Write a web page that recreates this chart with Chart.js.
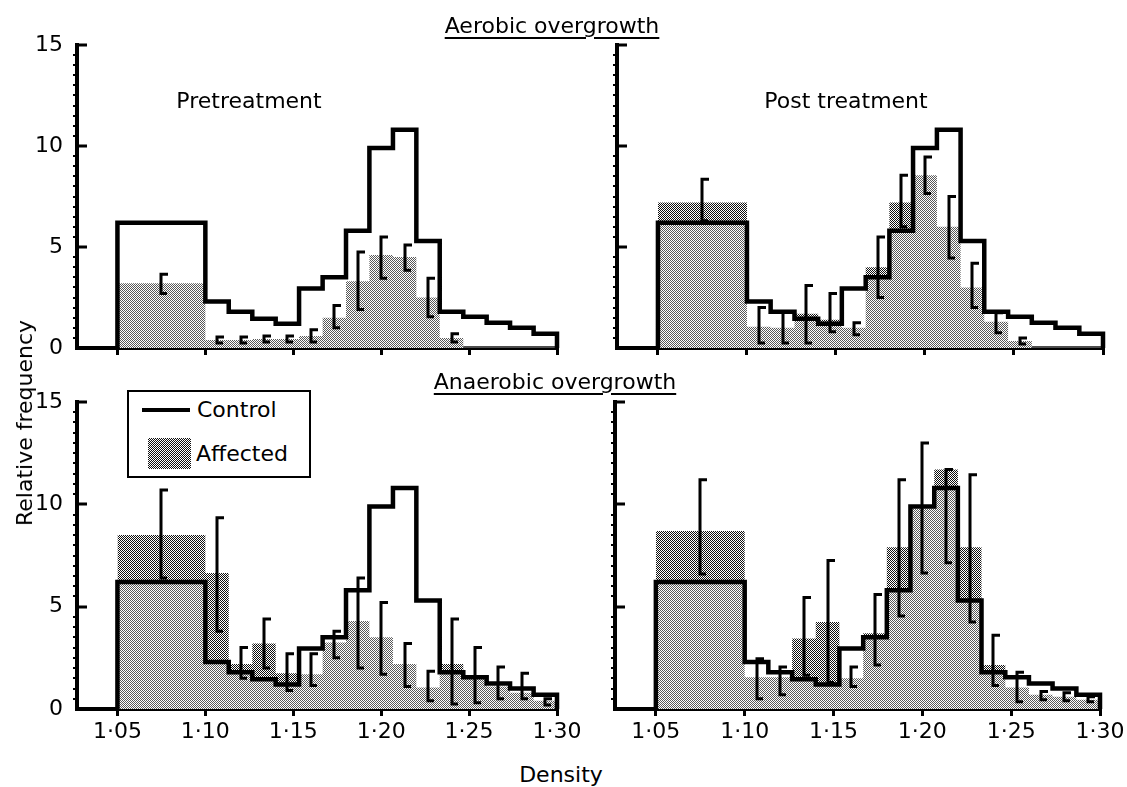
<!DOCTYPE html>
<html><head><meta charset="utf-8">
<script src="https://cdn.jsdelivr.net/npm/chart.js@4.4.1/dist/chart.umd.min.js"></script>
<style>
body{margin:0;background:#fff;}
#root{position:relative;width:1127px;height:787px;overflow:hidden;font-family:'DejaVu Sans',sans-serif;color:#000;background:#fff;}
.pane{position:absolute;}
.t{position:absolute;white-space:nowrap;font-size:22px;line-height:1;transform:translate(-50%,-50%);}
.ul{text-decoration:underline;text-decoration-thickness:2px;text-underline-offset:4px;}
#legend{position:absolute;left:127px;top:390px;width:180px;height:84px;border:2px solid #000;background:#fff;}
</style></head><body>
<div id="root">
  <div class="pane" style="left:0;top:30px"><canvas id="c1" width="585" height="340"></canvas></div>
  <div class="pane" style="left:560px;top:30px"><canvas id="c2" width="567" height="340"></canvas></div>
  <div class="pane" style="left:0;top:388px"><canvas id="c3" width="585" height="370"></canvas></div>
  <div class="pane" style="left:560px;top:388px"><canvas id="c4" width="567" height="370"></canvas></div>

  <div class="t ul" style="left:552px;top:26px">Aerobic overgrowth</div>
  <div class="t ul" style="left:555px;top:382px">Anaerobic overgrowth</div>
  <div class="t" style="left:249px;top:101px">Pretreatment</div>
  <div class="t" style="left:846px;top:101px">Post treatment</div>
  <div class="t" style="left:25px;top:423px;transform:translate(-50%,-50%) rotate(-90deg)">Relative frequency</div>
  <div class="t" style="left:561px;top:775px">Density</div>

  <div id="legend">
    <div style="position:absolute;left:13px;top:16px;width:48px;height:4px;background:#000"></div>
    <div style="position:absolute;left:68px;top:7px;font-size:22px;line-height:22px">Control</div>
    <div style="position:absolute;left:19px;top:46px;width:43px;height:31px;background:repeating-conic-gradient(#111 0 25%, #fff 0 50%) 0 0/2px 2px"></div>
    <div style="position:absolute;left:67px;top:51px;font-size:22px;line-height:22px">Affected</div>
  </div>
</div>
<script>
// Bin edges (density): one wide bin 1.05-1.10, then fifteen narrow bins up to 1.30
const edges = [1.05, 1.10, 1.1133, 1.1267, 1.14, 1.1533, 1.1667, 1.18, 1.1933, 1.2067, 1.22, 1.2333, 1.2467, 1.26, 1.2733, 1.2867, 1.30];
const xTicks = [1.05, 1.10, 1.15, 1.20, 1.25, 1.30];
const yTicks = [0, 5, 10, 15];

// Control relative frequency (same in every panel)
const control = [6.2, 2.3, 1.8, 1.45, 1.2, 2.95, 3.5, 5.8, 9.9, 10.8, 5.3, 1.8, 1.55, 1.25, 1.0, 0.7];

// Aerobic overgrowth - pretreatment (affected)
const aeroPreVal = [3.2, 0.4, 0.4, 0.45, 0.45, 0.6, 1.5, 3.3, 4.6, 4.5, 2.5, 0.5, 0, 0, 0, 0];
const aeroPreLo  = [2.7, 0.25, 0.25, 0.3, 0.3, 0.3, 1.0, 1.9, 3.45, 3.85, 1.55, 0.3, null, null, null, null];
const aeroPreHi  = [3.65, 0.55, 0.55, 0.6, 0.6, 0.9, 2.1, 4.75, 5.5, 5.1, 3.45, 0.7, null, null, null, null];

// Aerobic overgrowth - post treatment (affected)
const aeroPostVal = [7.2, 1.05, 1.0, 1.7, 1.4, 1.0, 4.0, 7.2, 8.55, 6.0, 3.0, 1.3, 0.35, 0, 0, 0];
const aeroPostLo  = [6.3, 0.25, 0.25, 0.25, 0.8, 0.65, 2.5, 6.0, 7.65, 4.45, 2.0, 0.75, 0.2, null, null, null];
const aeroPostHi  = [8.35, 2.0, 1.8, 3.1, 2.7, 1.25, 5.5, 8.55, 9.45, 7.5, 4.2, 1.75, 0.5, null, null, null];

// Anaerobic overgrowth - pretreatment (affected)
const anaePreVal = [8.5, 6.65, 2.2, 3.2, 1.75, 1.7, 3.25, 4.3, 3.5, 2.2, 1.05, 2.2, 1.5, 1.1, 0.8, 0.4];
const anaePreLo  = [6.4, 3.8, 1.5, 2.0, 0.9, 1.15, 2.5, 2.0, 1.7, 1.1, 0.4, 0.25, 0.3, 0.5, 0.5, 0.2];
const anaePreHi  = [10.7, 9.35, 3.0, 4.4, 2.7, 2.7, 3.8, 6.4, 5.2, 3.2, 1.85, 4.4, 3.0, 2.05, 1.75, 0.5];

// Anaerobic overgrowth - post treatment (affected)
const anaePostVal = [8.7, 1.55, 1.55, 3.45, 4.25, 1.5, 3.7, 7.9, 9.8, 11.7, 7.9, 2.15, 1.05, 0.7, 0.6, 0.45];
const anaePostLo  = [6.6, 0.5, 0.7, 1.65, 1.3, 1.1, 2.15, 4.55, 6.65, 7.15, 4.25, 1.15, 0.35, 0.45, 0.4, 0.35];
const anaePostHi  = [11.2, 2.45, 2.05, 5.45, 7.25, 2.05, 5.6, 11.2, 13.0, 11.7, 11.45, 3.6, 1.8, 0.85, 0.8, 0.6];

function stepPts(vals){
  const pts = [{x: edges[0], y: 0}];
  vals.forEach((v, i) => pts.push({x: edges[i], y: v}));
  pts.push({x: edges[edges.length - 1], y: 0});
  return pts;
}

function makePattern(){
  const c = document.createElement('canvas'); c.width = 2; c.height = 2;
  const g = c.getContext('2d');
  g.fillStyle = '#fff'; g.fillRect(0, 0, 2, 2);
  g.fillStyle = '#111'; g.fillRect(0, 0, 1, 1); g.fillRect(1, 1, 1, 1);
  return g.createPattern(c, 'repeat');
}
const pattern = makePattern();

const decor = {
  id: 'decor',
  afterDatasetsDraw(chart){
    const {ctx, scales: {x, y}} = chart;
    const ds = chart.data.datasets[1];
    ctx.save();
    ctx.strokeStyle = '#000'; ctx.lineWidth = 3; ctx.lineJoin = 'miter'; ctx.lineCap = 'butt';
    for (let i = 0; i < ds.errLo.length; i++){
      const lo = ds.errLo[i], hi = ds.errHi[i];
      if (lo == null) continue;
      const cx = Math.round(x.getPixelForValue((edges[i] + edges[i + 1]) / 2));
      const yl = y.getPixelForValue(lo), yh = y.getPixelForValue(hi);
      ctx.beginPath();
      ctx.moveTo(cx + 7, yh); ctx.lineTo(cx, yh); ctx.lineTo(cx, yl); ctx.lineTo(cx + 6, yl);
      ctx.stroke();
    }
    ctx.restore();
  },
  afterDraw(chart){
    const {ctx, scales: {y}, chartArea: a} = chart;
    ctx.save();
    ctx.fillStyle = '#000';
    yTicks.forEach(v => {
      if (v === 0) return;
      const py = Math.round(y.getPixelForValue(v));
      ctx.fillRect(a.left, py - 1.5, 10, 3);
    });
    for (let v = 0.5; v < 15; v += 0.5){
      if (v % 5 === 0) continue;
      const py = Math.round(y.getPixelForValue(v));
      ctx.fillRect(a.left - 4, py - 1, 3, 2);
    }
    ctx.restore();
  }
};

const tickFont = {family: 'DejaVu Sans', size: 22};

function makeChart(id, vals, lo, hi, o){
  return new Chart(document.getElementById(id), {
    type: 'line',
    data: {datasets: [
      {label: 'Control', data: stepPts(control), stepped: true, borderColor: '#000', borderWidth: 4.5,
       fill: 'origin', backgroundColor: 'rgba(255,255,255,0.3)', pointRadius: 0, clip: false,
       borderJoinStyle: 'miter', borderCapStyle: 'butt'},
      {label: 'Affected', data: stepPts(vals), stepped: true, borderColor: 'rgba(0,0,0,0)', borderWidth: 0,
       fill: 'origin', backgroundColor: pattern, pointRadius: 0, clip: false, errLo: lo, errHi: hi}
    ]},
    options: {
      responsive: false, animation: false, devicePixelRatio: 1,
      layout: {padding: {top: o.pt, right: o.pr, left: 0, bottom: 0}},
      plugins: {legend: {display: false}, tooltip: {enabled: false}},
      scales: {
        x: {type: 'linear', min: 1.027, max: 1.30,
            afterBuildTicks: s => { s.ticks = xTicks.map(v => ({value: v})); },
            afterFit: s => { s.height = o.xh; s.paddingLeft = 0; s.paddingRight = 0; s.paddingTop = 0; s.paddingBottom = 0; },
            grid: {display: true, drawOnChartArea: false, drawTicks: true, tickLength: 7, lineWidth: 3, color: '#000'},
            border: {display: true, width: 4, color: '#000'},
            ticks: {display: o.showX, padding: 3, maxRotation: 0, autoSkip: false, color: '#000', font: tickFont,
                    callback: v => Number(v).toFixed(2).replace('.', '\u00b7')}},
        y: {type: 'linear', min: 0, max: 15,
            afterBuildTicks: s => { s.ticks = yTicks.map(v => ({value: v})); },
            afterFit: s => { s.width = o.yw; s.paddingTop = 0; s.paddingBottom = 0; s.paddingLeft = 0; s.paddingRight = 0; },
            grid: {display: true, drawOnChartArea: false, drawTicks: false, color: '#000'},
            border: {display: true, width: 4, color: '#000'},
            ticks: {display: o.showY, padding: 14, color: '#000', font: tickFont}}
      }
    },
    plugins: [decor]
  });
}

makeChart('c1', aeroPreVal, aeroPreLo, aeroPreHi, {pt: 15, pr: 28, xh: 22, yw: 77, showX: false, showY: true});
makeChart('c2', aeroPostVal, aeroPostLo, aeroPostHi, {pt: 15, pr: 24, xh: 22, yw: 57, showX: false, showY: false});
makeChart('c3', anaePreVal, anaePreLo, anaePreHi, {pt: 14, pr: 28, xh: 49, yw: 77, showX: true, showY: true});
makeChart('c4', anaePostVal, anaePostLo, anaePostHi, {pt: 14, pr: 27, xh: 49, yw: 55, showX: true, showY: false});
</script>
</body></html>
